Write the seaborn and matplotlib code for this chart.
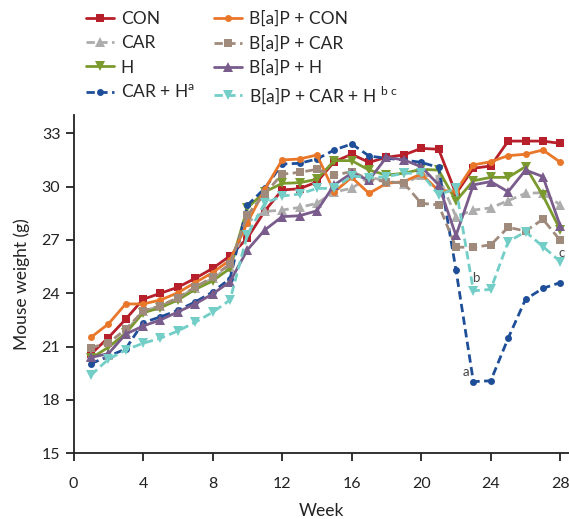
import numpy as np
import pandas as pd
from matplotlib import pyplot as plt
import seaborn as sns

weeks = list(range(1, 29))

con = [20.58, 21.50, 22.54, 23.66, 24.00, 24.34, 24.84, 25.40, 26.10, 27.10,
       28.63, 29.81, 29.88, 30.26, 31.40, 31.82, 31.36, 31.65, 31.78, 32.15,
       32.10, 29.60, 31.03, 31.16, 32.56, 32.56, 32.56, 32.43]
car = [20.45, 20.53, 21.84, 23.00, 23.28, 23.72, 24.32, 24.84, 25.50, 28.00,
       28.60, 28.68, 28.83, 29.06, 29.70, 29.90, 30.56, 30.28, 30.15, 30.65,
       30.56, 28.31, 28.68, 28.80, 29.21, 29.62, 29.66, 28.97]
h = [20.34, 20.96, 21.75, 22.90, 23.19, 23.62, 24.22, 24.69, 25.40, 28.80,
     29.70, 30.18, 30.22, 30.41, 31.46, 31.46, 30.93, 30.65, 30.75, 30.97,
     30.93, 29.19, 30.33, 30.52, 30.52, 31.12, 29.50, 27.56]
car_h = [20.04, 20.45, 20.87, 22.35, 22.67, 23.04, 23.51, 24.07, 24.82, 28.95,
         29.90, 31.27, 31.31, 31.55, 32.06, 32.40, 31.72, 31.59, 31.50, 31.36,
         31.08, 25.31, 19.03, 19.08, 21.47, 23.66, 24.28, 24.60]
bap_con = [21.52, 22.27, 23.40, 23.40, 23.62, 24.03, 24.60, 25.16, 25.87, 27.97,
           29.85, 31.50, 31.55, 31.78, 29.70, 30.52, 29.62, 30.18, 30.28, 30.71,
           29.77, 29.75, 31.22, 31.40, 31.74, 31.82, 32.06, 31.37]
bap_car = [20.94, 21.20, 21.97, 23.00, 23.30, 23.75, 24.35, 24.90, 25.65, 28.40,
           29.60, 30.70, 30.80, 30.97, 30.65, 30.84, 30.41, 30.28, 30.20, 29.06,
           28.97, 26.59, 26.59, 26.72, 27.71, 27.50, 28.16, 26.97]
bap_h = [20.40, 20.60, 21.70, 22.16, 22.50, 22.95, 23.40, 23.96, 24.65, 26.44,
         27.56, 28.31, 28.36, 28.64, 30.10, 30.75, 30.37, 31.65, 31.50, 31.12,
         30.10, 27.25, 30.10, 30.28, 29.71, 30.93, 30.56, 27.78]
bap_car_h = [19.39, 20.29, 20.81, 21.19, 21.47, 21.88, 22.37, 22.93, 23.62, 27.30,
             29.06, 29.47, 29.58, 29.90, 29.90, 30.60, 30.50, 30.56, 30.75, 30.75,
             29.53, 29.90, 24.14, 24.22, 26.90, 27.46, 26.63, 25.78]

labels = ['CON', 'CAR', 'H', 'CAR + H$^{\\mathregular{a}}$',
          'B[a]P + CON', 'B[a]P + CAR', 'B[a]P + H',
          'B[a]P + CAR + H $^{\\mathregular{b\\ c}}$']
series = [con, car, h, car_h, bap_con, bap_car, bap_h, bap_car_h]
colors = ['#B71F2A', '#AEADAD', '#7B9A2E', '#1F4E99',
          '#E9772A', '#A08A7C', '#7A5C8C', '#72CEC7']
markers = ['s', '^', 'v', 'o', 'o', 's', '^', 'v']
msizes = [6, 7, 7.5, 5, 5, 6, 7, 7.5]
styles = ['-', '--', '-', '--', '-', '--', '-', '--']

sns.set_style('ticks')
plt.rcParams['font.family'] = ['Lato', 'DejaVu Sans']

fig = plt.figure(figsize=(5.69, 5.19), dpi=100)
ax = fig.add_axes([0.1292, 0.1266, 0.8708, 0.6509])

order = [3, 1, 5, 2, 6, 7, 0, 4]
for i in order:
    df = pd.DataFrame({'Week': weeks, 'w': series[i]})
    sns.lineplot(data=df, x='Week', y='w', ax=ax, color=colors[i],
                 marker=markers[i], markersize=msizes[i], markeredgewidth=0,
                 linestyle=styles[i], linewidth=2, label=labels[i], zorder=2 + i * 0.1)
    if styles[i] == '--':
        ax.lines[-1].set_dashes((3, 1.6))

ax.get_legend().remove()

ax.set_xlim(0, 28.5)
ax.set_ylim(15, 34)
ax.set_xticks(range(0, 29, 4))
ax.set_yticks(range(15, 34, 3))
sns.despine(ax=ax)
for s in ['left', 'bottom']:
    ax.spines[s].set_linewidth(1.3)
    ax.spines[s].set_color('#222222')
ax.tick_params(axis='both', length=6, width=1.3, labelsize=11.5, colors='#222222')
ax.tick_params(axis='x', pad=11)
ax.set_xlabel('Week', fontsize=12.5, color='#222222', va='center')
ax.xaxis.set_label_coords(0.5, -0.172)
ax.set_ylabel('Mouse weight (g)', fontsize=12.5, labelpad=8, color='#222222')

# letters next to the dips
ax.annotate('a', xy=(23, car_h[22]), xytext=(-5, 7), textcoords='offset points',
            fontsize=9.5, color='#444444', ha='center', va='center')
ax.annotate('b', xy=(23, bap_car_h[22]), xytext=(1.5, 9), textcoords='offset points',
            fontsize=9.5, color='#444444', ha='center', va='center')
ax.annotate('c', xy=(28, bap_car_h[27]), xytext=(1, 6.5), textcoords='offset points',
            fontsize=9.5, color='#444444', ha='center', va='center')

handles, labs = ax.get_legend_handles_labels()
hmap = dict(zip(labs, handles))
fig.legend([hmap[l] for l in labels], labels, ncol=2, frameon=False,
           loc='upper left', bbox_to_anchor=(86 / 569, 1 - 11 / 519),
           fontsize=12.5, handlelength=1.6, handletextpad=0.4,
           columnspacing=1.1, labelspacing=0.47, borderpad=0, borderaxespad=0)

plt.savefig('out.png', dpi=100)
